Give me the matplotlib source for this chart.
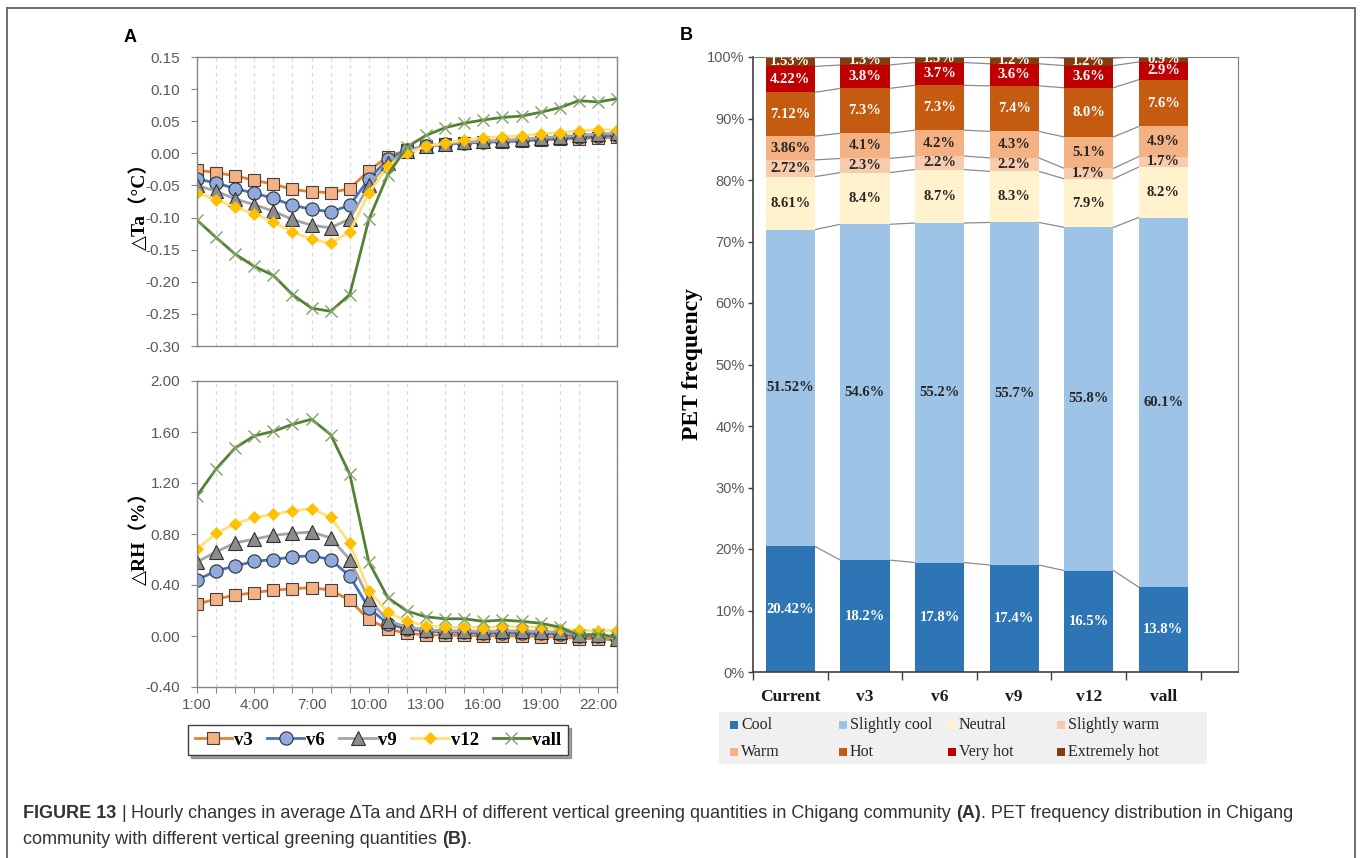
import numpy as np
import matplotlib.pyplot as plt
from matplotlib.lines import Line2D
from matplotlib.patches import Rectangle
from matplotlib.ticker import FuncFormatter

# hourly differences against the current scheme, 1:00 .. 23:00
hours = list(range(1, 24))

dta_v3 = [-0.026, -0.030, -0.035, -0.042, -0.048, -0.056, -0.060, -0.061, -0.055, -0.027, -0.005, 0.005,
          0.011, 0.015, 0.016, 0.017, 0.018, 0.019, 0.021, 0.022, 0.023, 0.024, 0.025]
dta_v6 = [-0.040, -0.046, -0.055, -0.062, -0.070, -0.081, -0.087, -0.091, -0.081, -0.040, -0.009, 0.005,
          0.011, 0.014, 0.016, 0.018, 0.019, 0.020, 0.022, 0.024, 0.025, 0.027, 0.028]
dta_v9 = [-0.050, -0.059, -0.071, -0.080, -0.090, -0.103, -0.112, -0.116, -0.102, -0.050, -0.015, 0.003,
          0.012, 0.015, 0.017, 0.019, 0.020, 0.022, 0.024, 0.026, 0.028, 0.030, 0.031]
dta_v12 = [-0.061, -0.072, -0.084, -0.094, -0.107, -0.122, -0.134, -0.140, -0.122, -0.062, -0.020, 0.000,
           0.011, 0.016, 0.021, 0.024, 0.026, 0.027, 0.030, 0.032, 0.035, 0.037, 0.036]
dta_vall = [-0.104, -0.131, -0.157, -0.176, -0.190, -0.220, -0.241, -0.246, -0.220, -0.103, -0.033, 0.010,
            0.028, 0.040, 0.047, 0.052, 0.056, 0.058, 0.064, 0.071, 0.082, 0.080, 0.085]

drh_v3 = [0.25, 0.29, 0.32, 0.34, 0.36, 0.37, 0.38, 0.36, 0.28, 0.13, 0.055, 0.02,
          0.01, 0.005, 0.005, 0.0, 0.0, 0.0, -0.005, -0.01, -0.02, -0.02, -0.035]
drh_v6 = [0.44, 0.51, 0.55, 0.585, 0.60, 0.62, 0.63, 0.60, 0.47, 0.22, 0.095, 0.055,
          0.04, 0.03, 0.03, 0.02, 0.025, 0.02, 0.02, 0.015, 0.0, 0.0, -0.015]
drh_v9 = [0.58, 0.66, 0.73, 0.76, 0.79, 0.805, 0.815, 0.77, 0.60, 0.29, 0.12, 0.07,
          0.05, 0.04, 0.04, 0.035, 0.04, 0.04, 0.035, 0.03, 0.01, 0.005, -0.02]
drh_v12 = [0.68, 0.805, 0.88, 0.93, 0.955, 0.98, 1.00, 0.93, 0.73, 0.355, 0.185, 0.115,
           0.08, 0.07, 0.07, 0.065, 0.075, 0.07, 0.07, 0.055, 0.045, 0.04, 0.045]
drh_vall = [1.10, 1.31, 1.475, 1.57, 1.605, 1.66, 1.70, 1.58, 1.27, 0.58, 0.30, 0.195,
            0.15, 0.135, 0.135, 0.115, 0.125, 0.115, 0.10, 0.07, 0.005, 0.015, -0.01]

series_names = ['v3', 'v6', 'v9', 'v12', 'vall']
dta = [dta_v3, dta_v6, dta_v9, dta_v12, dta_vall]
drh = [drh_v3, drh_v6, drh_v9, drh_v12, drh_vall]

# PET class frequencies (%)
scenarios = ['Current', 'v3', 'v6', 'v9', 'v12', 'vall']
pet_classes = ['Cool', 'Slightly cool', 'Neutral', 'Slightly warm',
               'Warm', 'Hot', 'Very hot', 'Extremely hot']
cool = [20.42, 18.2, 17.8, 17.4, 16.5, 13.8]
slightly_cool = [51.52, 54.6, 55.2, 55.7, 55.8, 60.1]
neutral = [8.61, 8.4, 8.7, 8.3, 7.9, 8.2]
slightly_warm = [2.72, 2.3, 2.2, 2.2, 1.7, 1.7]
warm = [3.86, 4.1, 4.2, 4.3, 5.1, 4.9]
hot = [7.12, 7.3, 7.3, 7.4, 8.0, 7.6]
very_hot = [4.22, 3.8, 3.7, 3.6, 3.6, 2.9]
extremely_hot = [1.53, 1.3, 1.3, 1.2, 1.2, 0.9]
pet = [cool, slightly_cool, neutral, slightly_warm, warm, hot, very_hot, extremely_hot]

W, H = 1360, 858
fig = plt.figure(figsize=(W / 100, H / 100), dpi=100)


def rect(x0, y0, x1, y1):
    return [x0 / W, 1 - y1 / H, (x1 - x0) / W, (y1 - y0) / H]


def fmt2(v, pos):
    return '0.00' if abs(v) < 1e-9 else f'{v:.2f}'


serif = ['Liberation Serif', 'DejaVu Serif', 'Noto Sans CJK SC']
tick_font = dict(family='Liberation Sans', size=11)
tick_col = '#595959'

styles = {
    'v3': dict(color='#ED7D31', marker='s', mfc='#F4B183', mec='#404040', ms=9, mew=0.8),
    'v6': dict(color='#4472C4', marker='o', mfc='#8FAADC', mec='#303030', ms=9.5, mew=0.8),
    'v9': dict(color='#A5A5A5', marker='^', mfc='#8C8C8C', mec='#303030', ms=9.5, mew=0.8),
    'v12': dict(color='#FFE07A', marker='D', mfc='#FFC000', mec='#FFC000', ms=6.5, mew=0.5),
    'vall': dict(color='#548235', marker='x', mfc='none', mec='#7FA267', ms=9, mew=1.0),
}


def style_line_axes(ax, ylim, yticks):
    ax.set_xlim(1, 23)
    ax.set_ylim(*ylim)
    ax.set_yticks(yticks)
    ax.yaxis.set_major_formatter(FuncFormatter(fmt2))
    ax.set_xticks(hours, minor=True)
    ax.grid(which='minor', axis='x', color='#D9D9D9', linestyle=(0, (3, 3)), linewidth=0.9)
    for s in ax.spines.values():
        s.set_color('#868686')
        s.set_linewidth(1.0)
    ax.tick_params(axis='y', length=4, width=0.8, color='#868686', pad=8, labelcolor=tick_col)
    for lab in ax.get_yticklabels():
        lab.set_fontproperties(tick_font)


# ---- panel A: delta Ta
ax_t = fig.add_axes(rect(197, 57, 617, 346))
for name, vals in zip(series_names, dta):
    ax_t.plot(hours, vals, lw=2, label=name, **styles[name])
style_line_axes(ax_t, (-0.30, 0.15), np.arange(-0.30, 0.151, 0.05))
ax_t.set_xticks([])
ax_t.set_xticks(hours, minor=True)
ax_t.tick_params(axis='x', which='both', length=0)
ax_t.set_ylabel('△Ta（°C）', family=serif, fontsize=14, fontweight='bold', labelpad=-2)

# ---- panel A: delta RH
ax_h = fig.add_axes(rect(197, 381, 617, 687))
lines = []
for name, vals in zip(series_names, drh):
    ln, = ax_h.plot(hours, vals, lw=2, label=name, **styles[name])
    lines.append(ln)
style_line_axes(ax_h, (-0.40, 2.00), np.arange(-0.40, 2.001, 0.40))
ax_h.set_xticks(hours[::3])
ax_h.set_xticklabels([f'{h}:00' for h in hours[::3]])
ax_h.tick_params(axis='x', which='both', length=4, width=0.8, color='#868686', labelcolor=tick_col, pad=4)
for lab in ax_h.get_xticklabels():
    lab.set_fontproperties(tick_font)
ax_h.set_ylabel('△RH（%）', family=serif, fontsize=14, fontweight='bold', labelpad=-2)

leg = fig.legend(lines, series_names, loc='center', bbox_to_anchor=(378 / W, 1 - 740 / H),
                 ncol=5, prop=dict(family='Liberation Serif', weight='bold', size=13.5),
                 frameon=True, fancybox=False, shadow=True, edgecolor='#404040',
                 handlelength=2.0, handletextpad=0.1, columnspacing=0.75, borderpad=0.35)
leg.get_frame().set_linewidth(1.0)

# ---- panel B: stacked PET frequencies
pet_colors = ['#2E75B6', '#9DC3E6', '#FFF2CC', '#F8CBAD',
              '#F4B183', '#C55A11', '#C00000', '#843C0C']
label_colors = ['white', '#262626', '#262626', '#262626',
                '#262626', 'white', 'white', 'white']
decimals = [2, 1, 1, 1, 1, 1]

ax_b = fig.add_axes(rect(753, 57, 1238, 672))
x = np.arange(len(scenarios))
bw = 0.66
bottom = np.zeros(len(scenarios))
tops = []
for vals, col, lcol in zip(pet, pet_colors, label_colors):
    vals = np.array(vals)
    ax_b.bar(x, vals, bw, bottom=bottom, color=col, edgecolor='none', zorder=2)
    for i, v in enumerate(vals):
        ax_b.text(x[i], bottom[i] + v / 2, f'{v:.{decimals[i]}f}%', ha='center', va='center',
                  family='Liberation Serif', fontweight='bold', fontsize=10.5, color=lcol,
                  zorder=4, clip_on=True)
    bottom = bottom + vals
    tops.append(bottom.copy())

# series lines joining the segment boundaries of neighbouring bars
for top in tops:
    for i in range(len(scenarios) - 1):
        ax_b.plot([x[i] + bw / 2, x[i + 1] - bw / 2], [top[i], top[i + 1]],
                  color='#8C8C8C', lw=0.9, zorder=1, clip_on=True)

ax_b.set_xlim(-0.5, 6.0)
ax_b.set_ylim(0, 100)
ax_b.set_yticks(np.arange(0, 101, 10))
ax_b.yaxis.set_major_formatter(FuncFormatter(lambda v, p: f'{v:.0f}%'))
ax_b.set_xticks(np.arange(-0.5, 5.6, 1.0))
ax_b.set_xticklabels([])
ax_b.set_xticks(x, minor=True)
ax_b.set_xticklabels(scenarios, minor=True)
ax_b.tick_params(axis='x', which='major', length=6, width=1.0, color='#404040')
ax_b.tick_params(axis='x', which='minor', length=0, pad=12)
for lab in ax_b.get_xticklabels(minor=True):
    lab.set_fontproperties(dict(family='Liberation Serif', weight='bold', size=12.5))
    lab.set_color('#1A1A1A')
ax_b.tick_params(axis='y', length=3.5, width=1.0, color='#404040', labelcolor=tick_col, pad=2.5)
for lab in ax_b.get_yticklabels():
    lab.set_fontproperties(dict(family='Liberation Sans', size=10.5))
ax_b.spines['left'].set_color('#404040')
ax_b.spines['bottom'].set_color('#404040')
ax_b.spines['left'].set_linewidth(1.2)
ax_b.spines['bottom'].set_linewidth(1.2)
ax_b.spines['top'].set_color('#7F7F7F')
ax_b.spines['right'].set_color('#7F7F7F')
ax_b.set_ylabel('PET frequency', family='Liberation Serif', fontweight='bold', fontsize=17, labelpad=3)

# legend for panel B: 4 equal columns on a grey band
fig.patches.append(Rectangle((719 / W, 1 - 764 / H), (1207 - 719) / W, (764 - 712) / H,
                             transform=fig.transFigure, facecolor='#F0F0F0', edgecolor='none', zorder=0))
for k, (name, col) in enumerate(zip(pet_classes, pet_colors)):
    row, colm = divmod(k, 4)
    mx = 734 + colm * 109
    my = 725 + row * 27
    fig.patches.append(Rectangle(((mx - 4) / W, 1 - (my + 4) / H), 8 / W, 8 / H,
                                 transform=fig.transFigure, facecolor=col, edgecolor='none'))
    fig.text((mx + 7) / W, 1 - my / H, name, family='Liberation Serif', fontsize=11.5,
             color='#262626', va='center', ha='left')

# panel letters
fig.text(130 / W, 1 - 37 / H, 'A', family='Liberation Sans', fontweight='bold', fontsize=13,
         ha='center', va='center')
fig.text(686 / W, 1 - 36 / H, 'B', family='Liberation Sans', fontweight='bold', fontsize=13,
         ha='center', va='center')

# outer frame
for xs, ys in [([7, 7], [8, 870]), ([7, 1355], [8, 8]), ([1355, 1355], [8, 870])]:
    fig.add_artist(Line2D([v / W for v in xs], [1 - v / H for v in ys], color='#6E6E6E', lw=1.4))

# caption, written run by run so bold pieces sit inline
renderer = fig.canvas.get_renderer()
cap_size = 13


def caption_line(y_px, runs):
    xp = 23
    space = 0.278 * cap_size * 100 / 72
    for text, weight, gap in runs:
        t = fig.text(xp / W, 1 - y_px / H, text, family='Liberation Sans', fontsize=cap_size,
                     fontweight=weight, color='#333333', ha='left', va='center')
        xp = t.get_window_extent(renderer).x1 + (space if gap else 0)


caption_line(813, [('FIGURE 13', 'bold', True), ('|', 'normal', True),
                   ('Hourly changes in average ΔTa and ΔRH of different vertical greening quantities '
                    'in Chigang community', 'normal', True),
                   ('(A)', 'bold', False), ('. PET frequency distribution in Chigang', 'normal', False)])
caption_line(839, [('community with different vertical greening quantities', 'normal', True),
                   ('(B)', 'bold', False), ('.', 'normal', False)])

fig.savefig('out.png', dpi=100)
